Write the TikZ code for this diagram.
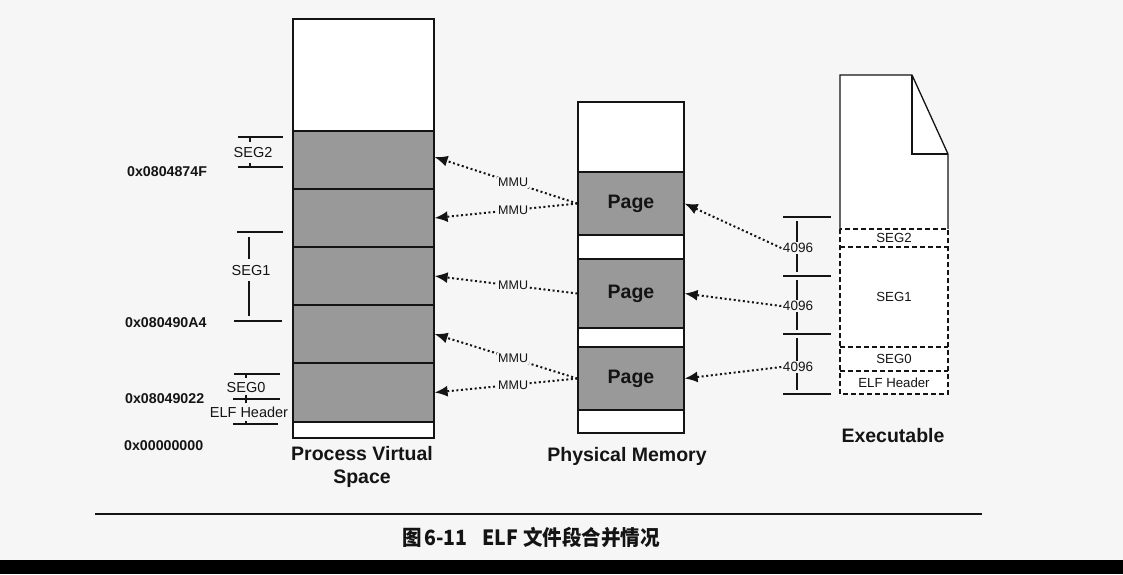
\documentclass[tikz,border=0pt]{standalone}
\usepackage{graphicx}
\usepackage{fontspec}
\setmainfont{Liberation Sans}
\newfontfamily\cjk{Noto Sans CJK SC}
\usetikzlibrary{arrows.meta}
\definecolor{bg}{gray}{0.965}
\definecolor{shade}{gray}{0.6}
\definecolor{ink}{gray}{0.08}
\tikzset{
  vblk/.style={draw=ink, line width=1.2pt, inner sep=0pt, minimum width=141pt},
  pblk/.style={draw=ink, line width=1.2pt, inner sep=0pt, minimum width=106pt},
  grey/.style={fill=shade},
  wht/.style={fill=white},
  mmuarrow/.style={draw=ink, line width=2pt, dash pattern=on 2pt off 2.6pt, -{Latex[length=13pt,width=11pt]}},
  mmu/.style={fill=bg, inner sep=1pt, text=ink, font=\fontsize{12.5}{14}\selectfont},
  sz/.style={fill=bg, inner sep=1.5pt, text=ink, font=\fontsize{13.5}{15}\selectfont},
  seglab/.style={inner sep=0.5pt, text=ink, font=\fontsize{14.5}{16}\selectfont},
  exlab/.style={inner sep=0pt, text=ink, font=\fontsize{13.2}{15}\selectfont},
  addr/.style={anchor=west, inner sep=0pt, text=ink, font=\fontsize{14.2}{16}\selectfont\bfseries},
  title/.style={inner sep=0pt, text=ink, align=center, font=\fontsize{19.5}{23}\selectfont\bfseries},
  pagelab/.style={text=ink, font=\fontsize{19.5}{22}\selectfont\bfseries},
  brk/.style={draw=ink, line width=1.2pt},
  dsh/.style={draw=ink, line width=1.3pt, dash pattern=on 5pt off 3pt}
}
\begin{document}
\begin{tikzpicture}[x=1pt,y=-1pt]
\useasboundingbox (0,0) rectangle (1123,574);
\fill[bg] (0,0) rectangle (1123,574);
\fill[black] (0,560) rectangle (1123,574);

% ---- Process Virtual Space ----
\node[vblk, wht, minimum height=112pt] (vtop) at (363.5,75) {};
\node[vblk, grey, minimum height=58pt] (v1) at (363.5,160) {};
\node[vblk, grey, minimum height=58pt] (v2) at (363.5,218) {};
\node[vblk, grey, minimum height=58pt] (v3) at (363.5,276) {};
\node[vblk, grey, minimum height=58pt] (v4) at (363.5,334) {};
\node[vblk, grey, minimum height=59pt] (v5) at (363.5,392.5) {};
\node[vblk, wht, minimum height=16pt] (vbot) at (363.5,430) {};
\node[title] (tpvs) at (362,467) {Process Virtual\\Space};

% ---- Physical Memory ----
\node[pblk, wht, minimum height=70pt] (ptop) at (631,137) {};
\node[pblk, grey, minimum height=63pt, pagelab] (p1) at (631,203.5) {Page};
\node[pblk, wht, minimum height=24pt] (pg1) at (631,247) {};
\node[pblk, grey, minimum height=69pt, pagelab] (p2) at (631,293.5) {Page};
\node[pblk, wht, minimum height=19pt] (pg2) at (631,337.5) {};
\node[pblk, grey, minimum height=63pt, pagelab] (p3) at (631,378.5) {Page};
\node[pblk, wht, minimum height=23pt] (pbot) at (631,421.5) {};
\node[title] (tpm) at (627,456) {Physical Memory};

% ---- Executable ----
\draw[ink, line width=1.3pt, fill=white] (840,229) -- (840,75) -- (912,75) -- (948,154) -- (948,229);
\draw[ink, line width=1.3pt] (912,75) -- (912,154) -- (948,154);
\fill[white] (840,229) rectangle (948,394);
\draw[dsh] (840,229) rectangle (948,394);
\draw[dsh] (840,247) -- (948,247);
\draw[dsh] (840,347) -- (948,347);
\draw[dsh] (840,371) -- (948,371);
\node[exlab] (eseg2) at (894,238) {SEG2};
\node[exlab] (eseg1) at (894,297) {SEG1};
\node[exlab] (eseg0) at (894,359) {SEG0};
\node[exlab] (eelf) at (894,383) {ELF Header};
\node[title] (tex) at (893,436) {Executable};

% ---- 4096 brackets ----
\foreach \y in {217,276,334,394} \draw[brk] (783,\y) -- (831,\y);
\draw[brk] (797,221) -- (797,272);
\draw[brk] (797,280) -- (797,330);
\draw[brk] (797,338) -- (797,390);
\node[sz] (n1) at (798,248) {4096};
\node[sz] (n2) at (798,306) {4096};
\node[sz] (n3) at (798,367) {4096};

% ---- arrows ----
\draw[mmuarrow] (p1.west) -- node[mmu, pos=.45] {MMU} ([yshift=3pt]v1.east);
\draw[mmuarrow] (p1.west) -- node[mmu, pos=.45] {MMU} (v2.east);
\draw[mmuarrow] (p2.west) -- node[mmu, pos=.45] {MMU} (v3.east);
\draw[mmuarrow] (p3.west) -- node[mmu, pos=.45] {MMU} (v4.east);
\draw[mmuarrow] (p3.west) -- node[mmu, pos=.45] {MMU} (v5.east);
\draw[mmuarrow] (n1.west) -- (p1.east);
\draw[mmuarrow] (n2.west) -- (p2.east);
\draw[mmuarrow] (n3.west) -- (p3.east);

% ---- left addresses ----
\node[addr] (a1) at (127,172) {0x0804874F};
\node[addr] (a2) at (125,323) {0x080490A4};
\node[addr] (a3) at (125,399) {0x08049022};
\node[addr] (a4) at (124,446) {0x00000000};

% ---- left brackets ----
\draw[brk] (238,137) -- (283,137);
\draw[brk] (238,167) -- (283,167);
\draw[brk] (250,137) -- (250,142);
\draw[brk] (250,163) -- (250,167);
\node[seglab] (lseg2) at (253,153) {SEG2};

\draw[brk] (237,232) -- (283,232);
\draw[brk] (234,321) -- (282,321);
\draw[brk] (249,237) -- (249,259);
\draw[brk] (249,281) -- (249,316);
\node[seglab] (lseg1) at (251,270) {SEG1};

\draw[brk] (234,374) -- (280,374);
\draw[brk] (233,399) -- (280,399);
\draw[brk] (233,424) -- (278,424);
\draw[brk] (246,374) -- (246,378);
\draw[brk] (246,395) -- (246,403);
\draw[brk] (246,421) -- (246,424);
\node[seglab] (lseg0) at (246,387) {SEG0};
\node[seglab] (lelf) at (249,412) {ELF Header};

% ---- caption ----
\draw[ink, line width=1.6pt] (95,514) -- (982,514);
\node[text=ink, inner sep=0pt, font=\cjk\bfseries\fontsize{21}{24}\selectfont] (cap) at (531,537) {\scalebox{0.93}[1]{图\hspace{3pt}6-11\hspace{16pt}ELF\hspace{5pt}文件段合并情况}};
\end{tikzpicture}
\end{document}
